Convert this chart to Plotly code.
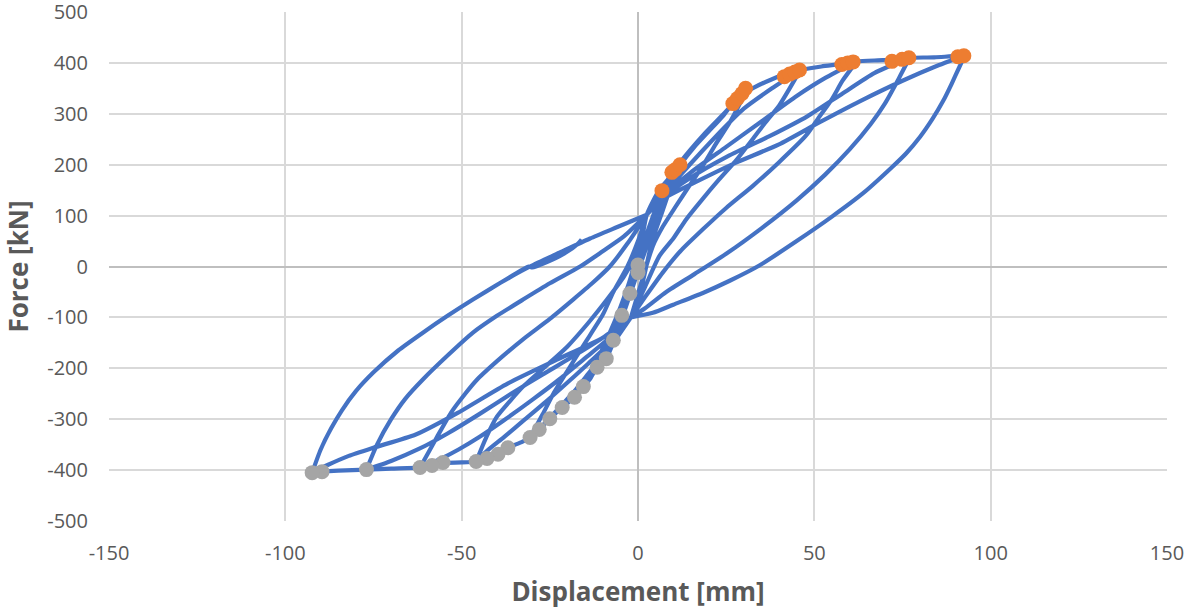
import plotly.graph_objects as go

# ---------------- axis ticks ----------------
x_ticks = [-150, -100, -50, 0, 50, 100, 150]
x_tick_labels = ["-150", "-100", "-50", "0", "50", "100", "150"]
y_ticks = [-500, -400, -300, -200, -100, 0, 100, 200, 300, 400, 500]
y_tick_labels = ["-500", "-400", "-300", "-200", "-100", "0", "100", "200", "300", "400", "500"]

# ---------------- peak markers ----------------
pos_peak_x = [6.8, 9.6, 10.5, 11.9, 26.9, 28.2, 29.5, 30.5, 41.5, 43.0, 44.5, 45.8,
              57.8, 59.5, 61.0, 72.0, 74.9, 76.8, 90.7, 92.4]
pos_peak_y = [149, 185, 190, 200, 320, 330, 340, 350, 373, 378, 382, 386,
              397, 400, 402, 403, 407, 410, 412, 414]
neg_peak_x = [0.0, 0.0, -2.3, -4.6, -7.0, -9.0, -11.6, -15.5, -18.0, -21.5, -25.0, -28.0,
              -30.6, -36.9, -39.7, -42.8, -45.9, -55.3, -58.4, -61.8, -77.0, -89.6, -92.4]
neg_peak_y = [3, -12, -53, -96, -145, -181, -198, -236, -257, -277, -299, -320,
              -336, -356, -369, -377, -383, -385, -391, -395, -399, -403, -405]

# ---------------- hysteresis waypoints ----------------
small_x = [0, 2, 4, 7, 5, 2, 0, -2.3, -4.6, -3, -1, 1, 3, 6, 9.6, 7, 4, 1, -2, -5, -7,
           -5, -2, 1, 4, 7, 10.5, 8, 5, 1, -3, -6, -9, -11.6, -8, -4, 0, 2.5, 6, 9, 12]
small_y = [0, 40, 80, 150, 100, 40, 0, -53, -96, -60, -15, 30, 75, 130, 185, 140, 80, 20, -40, -100, -145,
           -110, -50, 10, 70, 130, 190, 145, 90, 20, -50, -110, -181, -198, -150, -80, 10, 102, 150, 175, 200]

# positive loading envelope (from upper convergence to peaks)
env_pos_x = [2.5, 5, 7, 10, 12, 16, 20, 24, 27, 30, 33, 38, 43, 46, 52, 58, 62, 68, 72, 77, 84, 92.7]
env_pos_y = [102, 130, 150, 180, 200, 235, 265, 295, 322, 340, 352, 368, 381, 386, 393, 398, 403, 405, 406, 410, 411, 415]
# negative loading envelope
env_neg_x = [-2, -4, -5, -7, -9, -11.6, -13.5, -15.5, -18, -21.5, -25, -28, -30.6, -33, -36.9, -39.7,
             -42.8, -45.9, -50, -55.3, -58.4, -61.8, -70, -77, -85, -89.6, -92.4]
env_neg_y = [-100, -120, -130, -150, -181, -198, -220, -236, -257, -277, -299, -320, -336, -345, -356, -369,
             -377, -383, -385, -386, -391, -395, -397, -399, -401, -403, -405]

# repeated-cycle positive loading branches
lu30_x = [2.5, 6, 12, 19, 25, 31]
lu30_y = [102, 145, 205, 262, 305, 350]
lu45_x = [2.5, 7, 14, 22, 30, 38, 46]
lu45_y = [102, 140, 195, 255, 310, 350, 386]
lu60_x = [2.5, 7, 15, 25, 35, 45, 53, 62]
lu60_y = [102, 138, 185, 235, 285, 335, 370, 403]
lu75_x = [2.5, 7, 15, 25, 37, 48, 58, 67, 77]
lu75_y = [102, 135, 175, 215, 255, 295, 340, 380, 410]
lu92_x = [2.5, 7, 17, 27.8, 40, 51.4, 63, 75, 84, 92.7]
lu92_y = [102, 132, 168, 204, 240, 283, 325, 365, 392, 415]

# positive unloading branches (peak -> lower convergence)
ur12_x = [12, 10, 7, 4, 1, -2]
ur12_y = [200, 170, 110, 50, -40, -100]
ur30_x = [31, 28.5, 26, 22, 18.4, 14.5, 10.8, 7, 4.2, 1, -2]
ur30_y = [350, 315, 283, 240, 198, 158, 119, 78, 40, -30, -100]
ur45_x = [46, 43, 40, 36, 32.5, 28, 23, 18, 13.7, 10, 6, 2, -2]
ur45_y = [386, 350, 316, 282, 250, 210, 171, 130, 93, 55, 20, -40, -100]
ur60_x = [62, 58, 55, 51, 47.6, 40, 32.5, 25, 18.4, 12, 7, 2, -2]
ur60_y = [403, 365, 329, 290, 257, 205, 158, 115, 73, 30, -12, -60, -100]
ur75_x = [77, 74, 70, 66, 60, 53, 45, 35, 25, 16, 8, 2, -2]
ur75_y = [410, 370, 320, 280, 230, 180, 130, 75, 25, -15, -50, -82, -100]
ur92_x = [92.7, 91, 89, 86.5, 83.5, 80, 76, 72, 64, 55, 45, 34.4, 26, 18.4, 10, 4.2, -2]
ur92_y = [415, 390, 360, 325, 290, 255, 222, 195, 145, 98, 50, 2, -28, -52, -75, -91, -100]

# repeated-cycle negative loading branches
ld30_x = [-2, -6, -10, -14, -18, -22, -26, -30.6]
ld30_y = [-100, -140, -175, -210, -245, -275, -305, -336]
ld46_x = [-2, -8, -14, -20, -26, -32, -38, -42.8, -45.9]
ld46_y = [-100, -150, -190, -228, -265, -300, -335, -362, -383]
ld61_x = [-2, -8, -15, -22, -30, -38, -45, -51, -56, -61.8]
ld61_y = [-100, -140, -180, -220, -262, -302, -335, -360, -378, -395]
ld77_x = [-2, -10, -18, -27, -36, -45, -54, -62, -70, -77]
ld77_y = [-100, -140, -175, -212, -250, -290, -328, -358, -382, -399]
ld92_x = [-2, -10, -23, -37, -51, -63, -75, -82, -88, -92.4]
ld92_y = [-100, -140, -183, -230, -287, -330, -356, -372, -390, -405]

# negative unloading branches (peak -> upper convergence)
ul15_x = [-15.5, -12, -8, -5, -2, 0, 2.5]
ul15_y = [-236, -190, -130, -80, -20, 40, 102]
ul30_x = [-30.6, -27, -24, -20, -15, -10, -7, -3, 0, 2.5]
ul30_y = [-336, -290, -250, -205, -150, -95, -50, 0, 50, 102]
ul46_x = [-45.9, -43, -40, -36, -32.6, -26, -20, -14, -8.8, -4, -1.4, 2.5]
ul46_y = [-383, -335, -295, -262, -236, -195, -157, -110, -65, -20, 14, 102]
ul61_x = [-61.8, -57, -53, -49, -45.6, -39, -32.6, -25, -18.4, -13, -8, -3, 2.5]
ul61_y = [-395, -335, -287, -250, -222, -180, -143, -103, -65, -33, 0, 45, 102]
ul77_x = [-77, -74, -70, -66, -61, -54, -46.8, -40, -32.6, -25, -16.4, -10, -4, 2.5]
ul77_y = [-399, -350, -300, -260, -222, -175, -130, -97, -65, -33, 0, 30, 59, 102]
ul92_x = [-92.4, -90, -87, -84, -80, -75, -68, -61, -54, -46.8, -39, -30.6, -22, -13.6, -5, 2.5]
ul92_y = [-405, -360, -318, -283, -245, -208, -165, -130, -97, -65, -32, 0, 28, 55, 80, 102]
# final unloading with end hook
final_x = [-92.4, -90, -87, -84, -80, -75, -68, -61, -54, -46.8, -39, -31, -30, -26, -21, -17, -16]
final_y = [-405, -360, -318, -283, -245, -208, -165, -130, -97, -65, -32, 0, -2, 8, 25, 45, 53]


def upto_pos(xs, ys, lim):
    px = [x for x in xs if x <= lim]
    return px, ys[:len(px)]


def upto_neg(xs, ys, lim):
    px = [x for x in xs if x >= lim]
    return px, ys[:len(px)]


branches = [(small_x, small_y), (ur12_x, ur12_y), upto_neg(env_neg_x, env_neg_y, -15.5), (ul15_x, ul15_y)]
groups = [
    (30, -30.6, (lu30_x, lu30_y), (ur30_x, ur30_y), (ld30_x, ld30_y), (ul30_x, ul30_y), 3),
    (46, -45.9, (lu45_x, lu45_y), (ur45_x, ur45_y), (ld46_x, ld46_y), (ul46_x, ul46_y), 3),
    (62, -61.8, (lu60_x, lu60_y), (ur60_x, ur60_y), (ld61_x, ld61_y), (ul61_x, ul61_y), 3),
    (77, -77, (lu75_x, lu75_y), (ur75_x, ur75_y), (ld77_x, ld77_y), (ul77_x, ul77_y), 2),
    (92.7, -92.4, (lu92_x, lu92_y), (ur92_x, ur92_y), (ld92_x, ld92_y), (ul92_x, ul92_y), 2),
]
for gi, (pp, nn, lu, ur, ld, ul, reps) in enumerate(groups):
    for r in range(reps):
        branches.append(upto_pos(env_pos_x, env_pos_y, pp) if r == 0 else lu)
        branches.append(ur)
        branches.append(upto_neg(env_neg_x, env_neg_y, nn) if r == 0 else ld)
        last = (gi == len(groups) - 1 and r == reps - 1)
        branches.append((final_x, final_y) if last else ul)

line_x, line_y = [], []
for bx, by in branches:
    line_x += list(bx)
    line_y += list(by)

BLUE = "#4472C4"
ORANGE = "#ED7D31"
GRAY = "#A5A5A5"
TXT = "#595959"
GRID = "#D9D9D9"

fig = go.Figure()
fig.add_trace(go.Scatter(x=line_x, y=line_y, mode="lines",
                         line=dict(color=BLUE, width=4.2, shape="spline", smoothing=0.6),
                         hoverinfo="skip"))
fig.add_trace(go.Scatter(x=pos_peak_x, y=pos_peak_y, mode="markers",
                         marker=dict(color=ORANGE, size=15, line=dict(width=0))))
fig.add_trace(go.Scatter(x=neg_peak_x, y=neg_peak_y, mode="markers",
                         marker=dict(color=GRAY, size=15, line=dict(width=0))))

fig.update_layout(
    width=1193, height=611,
    margin=dict(l=109, r=26, t=12, b=90, autoexpand=False),
    paper_bgcolor="white", plot_bgcolor="white",
    showlegend=False,
    font=dict(family="Open Sans, DejaVu Sans, sans-serif", color=TXT, size=20),
)
fig.update_xaxes(
    range=[-150, 150], tickvals=x_ticks, ticktext=x_tick_labels,
    showgrid=True, gridcolor=GRID, gridwidth=1.5,
    zeroline=True, zerolinecolor="#BFBFBF", zerolinewidth=1.5,
    showline=False, ticks="", ticklabelstandoff=18, ticklabeloverflow="allow",
    automargin=False,
    title=dict(text="<b>Displacement [mm]</b>", font=dict(size=26, color=TXT), standoff=17),
)
fig.update_yaxes(
    range=[-500, 500], tickvals=y_ticks, ticktext=y_tick_labels,
    showgrid=True, gridcolor=GRID, gridwidth=1.5,
    zeroline=True, zerolinecolor="#BFBFBF", zerolinewidth=1.5,
    showline=False, ticks="", ticklabelstandoff=20, ticklabeloverflow="allow",
    automargin=False,
    title=dict(text="<b>Force [kN]</b>", font=dict(size=26, color=TXT), standoff=14),
)
fig.write_html("out.html", config={"displayModeBar": False},
               post_script="document.body.style.margin='0';")
